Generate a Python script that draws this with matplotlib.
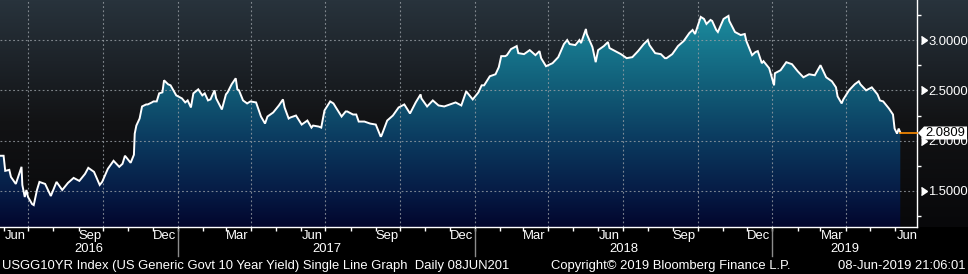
import numpy as np
import pandas as pd
import matplotlib
matplotlib.use("Agg")
import matplotlib.pyplot as plt
import matplotlib.dates as mdates
import matplotlib.transforms as mtrans
from matplotlib.patches import Polygon

plt.rcParams['font.family'] = ['Liberation Sans', 'DejaVu Sans']

# ---------------- data ----------------
dates = [
    "2016-05-27", "2016-06-01", "2016-06-03", "2016-06-08", "2016-06-10", "2016-06-16", "2016-06-23", "2016-06-24",
    "2016-06-27", "2016-06-29", "2016-07-01", "2016-07-06", "2016-07-08", "2016-07-12", "2016-07-15", "2016-07-22",
    "2016-07-29", "2016-08-05", "2016-08-12", "2016-08-19", "2016-08-26", "2016-09-02", "2016-09-09", "2016-09-13",
    "2016-09-20", "2016-09-27", "2016-09-30", "2016-10-07", "2016-10-14", "2016-10-21", "2016-10-25", "2016-10-28",
    "2016-11-04", "2016-11-08", "2016-11-09", "2016-11-11", "2016-11-15", "2016-11-18", "2016-11-23", "2016-11-25",
    "2016-11-30", "2016-12-02", "2016-12-06", "2016-12-09", "2016-12-13", "2016-12-15", "2016-12-20", "2016-12-23",
    "2016-12-30",
    "2017-01-06", "2017-01-10", "2017-01-13", "2017-01-17", "2017-01-20", "2017-01-26", "2017-01-31", "2017-02-03",
    "2017-02-07", "2017-02-10", "2017-02-15", "2017-02-17", "2017-02-24", "2017-03-01", "2017-03-03", "2017-03-08",
    "2017-03-13", "2017-03-15", "2017-03-17", "2017-03-22", "2017-03-27", "2017-03-31", "2017-04-07", "2017-04-13",
    "2017-04-18", "2017-04-21", "2017-04-28", "2017-05-05", "2017-05-10", "2017-05-12", "2017-05-17", "2017-05-19",
    "2017-05-26", "2017-06-02", "2017-06-09", "2017-06-14", "2017-06-16", "2017-06-23", "2017-06-26", "2017-06-30",
    "2017-07-07", "2017-07-11", "2017-07-14", "2017-07-21", "2017-07-26", "2017-07-28", "2017-08-04", "2017-08-08",
    "2017-08-11", "2017-08-18", "2017-08-25", "2017-09-01", "2017-09-07", "2017-09-08", "2017-09-15", "2017-09-22",
    "2017-09-29", "2017-10-06", "2017-10-13", "2017-10-20", "2017-10-26", "2017-10-27", "2017-11-03", "2017-11-10",
    "2017-11-17", "2017-11-24", "2017-12-01", "2017-12-08", "2017-12-15", "2017-12-21", "2017-12-29",
    "2018-01-05", "2018-01-09", "2018-01-12", "2018-01-19", "2018-01-26", "2018-01-30", "2018-02-02", "2018-02-07",
    "2018-02-09", "2018-02-14", "2018-02-21", "2018-02-23", "2018-03-02", "2018-03-09", "2018-03-16", "2018-03-21",
    "2018-03-23", "2018-03-29", "2018-04-06", "2018-04-13", "2018-04-20", "2018-04-24", "2018-04-27", "2018-05-04",
    "2018-05-09", "2018-05-11", "2018-05-17", "2018-05-18", "2018-05-25", "2018-05-29", "2018-06-01", "2018-06-08",
    "2018-06-13", "2018-06-15", "2018-06-22", "2018-06-29", "2018-07-06", "2018-07-13", "2018-07-20", "2018-07-27",
    "2018-08-01", "2018-08-03", "2018-08-10", "2018-08-17", "2018-08-22", "2018-08-24", "2018-08-31", "2018-09-07",
    "2018-09-14", "2018-09-21", "2018-09-25", "2018-09-28", "2018-10-05", "2018-10-09", "2018-10-12", "2018-10-17",
    "2018-10-19", "2018-10-24", "2018-10-26", "2018-11-02", "2018-11-08", "2018-11-09", "2018-11-16", "2018-11-23",
    "2018-11-28", "2018-11-30", "2018-12-04", "2018-12-07", "2018-12-11", "2018-12-14", "2018-12-19", "2018-12-21",
    "2018-12-28",
    "2019-01-03", "2019-01-04", "2019-01-11", "2019-01-18", "2019-01-25", "2019-02-01", "2019-02-08", "2019-02-15",
    "2019-02-22", "2019-03-01", "2019-03-08", "2019-03-15", "2019-03-20", "2019-03-22", "2019-03-27", "2019-03-29",
    "2019-04-05", "2019-04-12", "2019-04-17", "2019-04-19", "2019-04-26", "2019-05-03", "2019-05-10", "2019-05-13",
    "2019-05-17", "2019-05-24", "2019-05-29", "2019-05-31", "2019-06-03", "2019-06-05", "2019-06-07",
]
yields = [
    1.85, 1.85, 1.70, 1.71, 1.64, 1.57, 1.74, 1.56,
    1.44, 1.51, 1.44, 1.37, 1.36, 1.51, 1.59, 1.57,
    1.45, 1.59, 1.51, 1.58, 1.63, 1.60, 1.67, 1.73,
    1.69, 1.56, 1.59, 1.72, 1.80, 1.74, 1.77, 1.85,
    1.78, 1.86, 2.07, 2.15, 2.22, 2.34, 2.36, 2.36,
    2.38, 2.39, 2.39, 2.47, 2.48, 2.60, 2.56, 2.55,
    2.45,
    2.42, 2.38, 2.40, 2.33, 2.47, 2.51, 2.45, 2.47,
    2.40, 2.41, 2.50, 2.42, 2.31, 2.46, 2.48, 2.56,
    2.62, 2.51, 2.50, 2.40, 2.37, 2.39, 2.38, 2.24,
    2.17, 2.24, 2.28, 2.35, 2.41, 2.33, 2.22, 2.23,
    2.25, 2.16, 2.20, 2.13, 2.15, 2.14, 2.13, 2.30,
    2.39, 2.37, 2.33, 2.24, 2.29, 2.29, 2.26, 2.26,
    2.19, 2.19, 2.17, 2.16, 2.04, 2.05, 2.20, 2.25,
    2.33, 2.36, 2.27, 2.38, 2.46, 2.42, 2.34, 2.40,
    2.35, 2.34, 2.36, 2.38, 2.35, 2.49, 2.41,
    2.48, 2.55, 2.55, 2.64, 2.66, 2.73, 2.84, 2.84,
    2.85, 2.91, 2.94, 2.87, 2.86, 2.90, 2.85, 2.89,
    2.82, 2.74, 2.77, 2.83, 2.96, 3.00, 2.96, 2.95,
    3.00, 2.97, 3.11, 3.06, 2.93, 2.78, 2.90, 2.94,
    2.98, 2.92, 2.89, 2.86, 2.82, 2.83, 2.89, 2.96,
    3.00, 2.95, 2.87, 2.86, 2.82, 2.82, 2.86, 2.94,
    2.99, 3.07, 3.10, 3.06, 3.23, 3.21, 3.16, 3.20,
    3.19, 3.10, 3.08, 3.21, 3.24, 3.19, 3.08, 3.05,
    3.06, 2.99, 2.91, 2.85, 2.88, 2.89, 2.77, 2.79,
    2.72,
    2.55, 2.67, 2.70, 2.78, 2.76, 2.69, 2.63, 2.66,
    2.65, 2.75, 2.63, 2.59, 2.53, 2.44, 2.37, 2.41,
    2.50, 2.56, 2.59, 2.56, 2.50, 2.53, 2.46, 2.40,
    2.39, 2.32, 2.26, 2.12, 2.07, 2.12, 2.0809,
]
y_ticks = [1.5, 2.0, 2.5, 3.0]
y_tick_labels = ["1.5000", "2.0000", "2.5000", "3.0000"]
month_names = {3: "Mar", 6: "Jun", 9: "Sep", 12: "Dec"}
year_labels = ["2016", "2017", "2018", "2019"]
last_value_label = "2.0809"
footer_left = "USGG10YR Index (US Generic Govt 10 Year Yield) Single Line Graph  Daily 08JUN201"
footer_mid = "Copyright\u00a9 2019 Bloomberg Finance L.P."
footer_right = "08-Jun-2019 21:06:01"

FS = 9.4

# ---------------- figure ----------------
W, H = 968, 274
fig = plt.figure(figsize=(W / 100, H / 100), dpi=100)
fig.patch.set_facecolor("black")


def interp_rows(stops, n):
    ys = [s[0] for s in stops]
    cols = np.array([s[1] for s in stops], dtype=float) / 255.0
    rows = np.arange(n)
    out = np.zeros((n, 3))
    for c in range(3):
        out[:, c] = np.interp(rows, ys, cols[:, c])
    return out


bg_stops = [(0, (40, 51, 60)), (60, (29, 35, 41)), (120, (18, 19, 21)), (226, (8, 8, 10)),
            (227, (0, 0, 0)), (273, (0, 0, 0))]
bg_rows = interp_rows(bg_stops, H)
bg_ax = fig.add_axes([0, 0, 1, 1], zorder=-5)
bg_ax.imshow(bg_rows[:, None, :], aspect="auto", extent=[0, 1, 0, 1], origin="upper")
bg_ax.set_axis_off()

plot_bottom_px = 227
plot_right_px = 917
ax = fig.add_axes([0, (H - plot_bottom_px) / H, plot_right_px / W, plot_bottom_px / H])
ax.set_facecolor("none")

x = mdates.date2num(pd.to_datetime(dates))
vals = np.array(yields)

ymin, ymax = 1.142, 3.398
xmin = mdates.date2num(pd.Timestamp("2016-05-27 14:00"))
xmax = mdates.date2num(pd.Timestamp("2019-06-27 12:00"))

# gradient fill under the line
fill_stops = [(0, (30, 146, 162)), (15, (28, 140, 158)), (50, (22, 116, 139)), (90, (17, 91, 118)),
              (140, (11, 58, 95)), (190, (6, 28, 70)), (226, (2, 6, 45))]
fill_rows = interp_rows(fill_stops, plot_bottom_px)
poly = ax.fill_between(x, vals, ymin, color="none", linewidth=0)
im = ax.imshow(fill_rows[:, None, :], aspect="auto", extent=[xmin, xmax, ymin, ymax],
               origin="upper", zorder=1)
im.set_clip_path(poly.get_paths()[0], transform=ax.transData)
ax.set_xlim(xmin, xmax)
ax.set_ylim(ymin, ymax)

# grid
grid_kw = dict(color="#9aa0a6", lw=0.8, linestyle=(0, (1.6, 2.2)), alpha=0.8, zorder=2)
for yt in y_ticks:
    ax.axhline(yt, **grid_kw)
for d in pd.date_range("2016-07-01", "2019-04-01", freq="QS"):
    ax.axvline(mdates.date2num(d), **grid_kw)

# line
ax.plot(x, vals, color="white", lw=1.4, zorder=4, solid_joinstyle="miter")

# last value line
ax.plot([x[-1], xmax], [vals[-1], vals[-1]], color="#ff8c00", lw=1.2, zorder=5, clip_on=False)

# spines
for s in ["top", "left"]:
    ax.spines[s].set_visible(False)
for s in ["bottom", "right"]:
    ax.spines[s].set_color("white")
    ax.spines[s].set_linewidth(1.0)

# y ticks on right
ax.yaxis.tick_right()
ax.set_yticks(y_ticks)
ax.set_yticklabels(y_tick_labels)
ax.set_yticks(np.arange(1.25, 3.4, 0.5), minor=True)
ax.tick_params(axis="y", which="major", length=0, pad=8, labelcolor="white", labelsize=FS)
ax.tick_params(axis="y", which="minor", length=3, width=1, color="white", direction="out")
ytrans = mtrans.blended_transform_factory(ax.transAxes, ax.transData)
ax.plot([1.0] * len(y_ticks), y_ticks, linestyle="none", marker=9, markersize=5.5,
        color="white", transform=mtrans.offset_copy(ytrans, fig=fig, x=3.5, y=0, units="dots"),
        clip_on=False, zorder=6)

# x ticks at month starts
month_starts = pd.date_range("2016-06-01", "2019-06-01", freq="MS")
ax.set_xticks(mdates.date2num(month_starts))
ax.set_xticklabels([])
ax.tick_params(axis="x", which="major", length=3, width=1, color="white", direction="out")

xtrans = mtrans.blended_transform_factory(ax.transData, fig.transFigure)


def fy(px):
    return 1 - px / H


# month labels at mid-month
for d in month_starts:
    if d.month in month_names:
        xm = mdates.date2num(d + pd.Timedelta(days=14))
        ax.text(xm, fy(236), month_names[d.month], transform=xtrans, color="white", fontsize=FS,
                ha="center", va="center")

# year labels and separators
year_edges = [xmin] + [mdates.date2num(pd.Timestamp(f"{y}-01-01")) for y in (2017, 2018, 2019)] + [xmax]
for i, lab in enumerate(year_labels):
    xc = 0.5 * (year_edges[i] + year_edges[i + 1])
    ax.text(xc, fy(249), lab, transform=xtrans, color="white", fontsize=FS, ha="center", va="center")
for xe in year_edges[1:-1]:
    ax.plot([xe, xe], [fy(229), fy(256)], transform=xtrans, color="#8c8c8c", lw=1, clip_on=False)

# last value box
bx0, bx1, by0, by1 = 918, 967, 126.5, 139.5
ymid = (by0 + by1) / 2
pts = [(bx0, ymid), (bx0 + 6, by0), (bx1, by0), (bx1, by1), (bx0 + 6, by1)]
pts_f = [(px / W, 1 - py / H) for px, py in pts]
fig.patches.append(Polygon(pts_f, closed=True, transform=fig.transFigure, facecolor="white",
                           edgecolor="none", zorder=10))
fig.text(945 / W, 1 - ymid / H, last_value_label, color="black", fontsize=FS, ha="center",
         va="center", zorder=11)

# footer
fig.text(2 / W, fy(266), footer_left, color="white", fontsize=FS, ha="left", va="center")
fig.text(551 / W, fy(266), footer_mid, color="white", fontsize=FS, ha="left", va="center")
fig.text(965 / W, fy(266), footer_right, color="white", fontsize=FS, ha="right", va="center")

fig.savefig("out.png", dpi=100, facecolor="black")
